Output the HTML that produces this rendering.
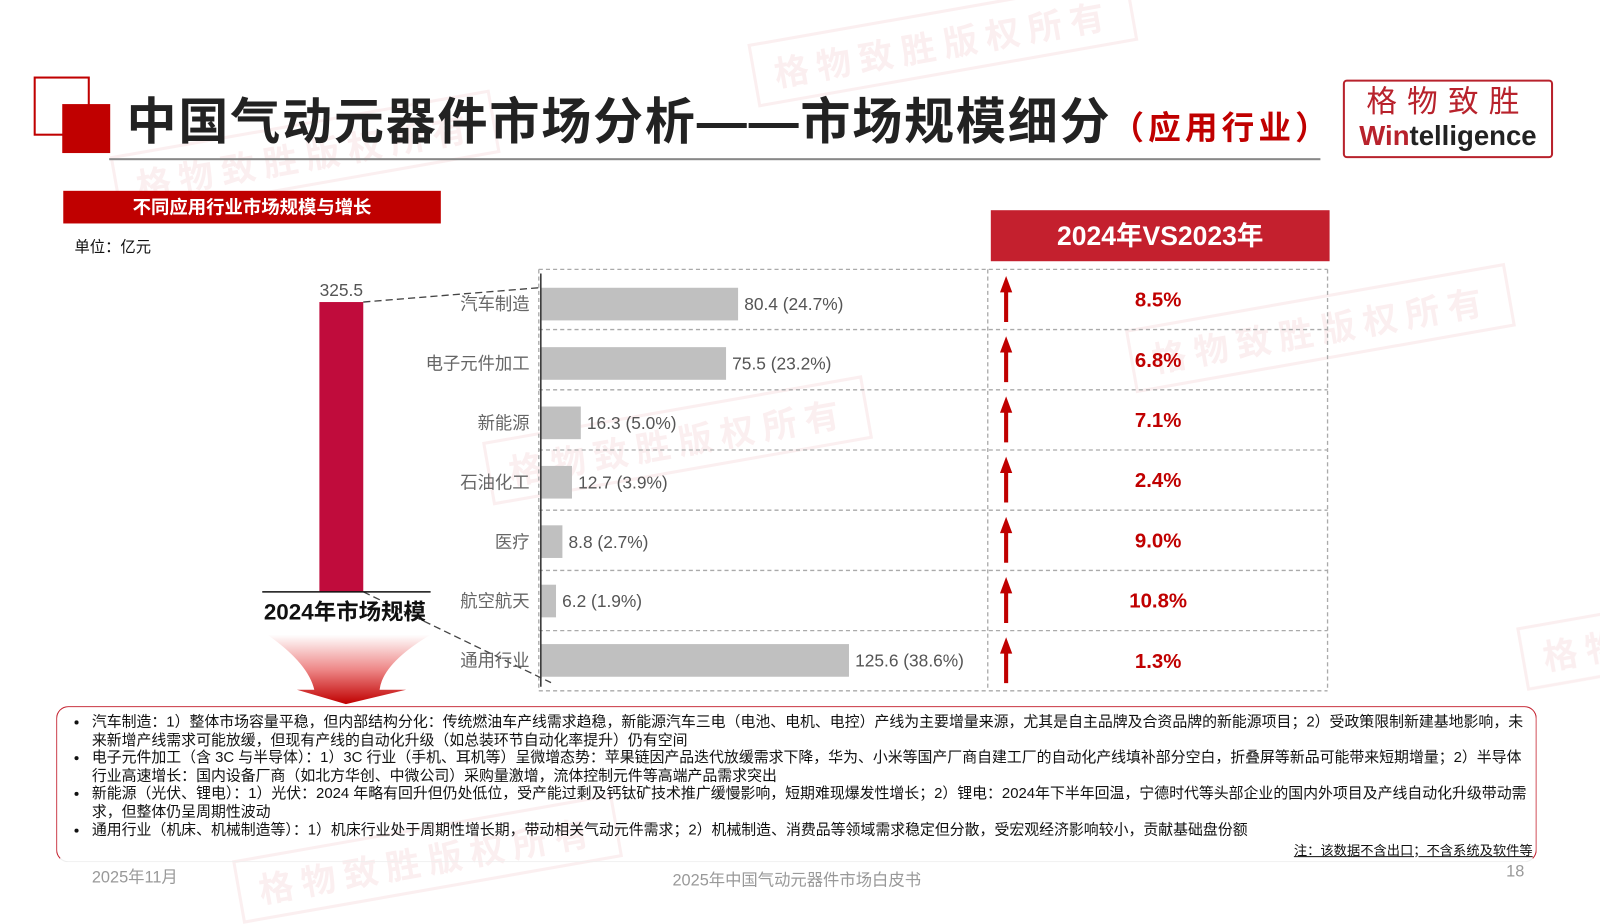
<!DOCTYPE html>
<html><head><meta charset="utf-8">
<style>
*{margin:0;padding:0;box-sizing:border-box}
body{width:1600px;height:900px;background:#fff;position:relative;overflow:hidden;font-family:"Liberation Sans","Noto Sans CJK SC",sans-serif}
#wrap{position:absolute;left:0;top:0;width:1568px;height:882px;transform:scale(1.020408);transform-origin:0 0}
.abs{position:absolute}
.wm{position:absolute;color:rgba(200,30,40,0.07);font-size:34px;font-weight:bold;letter-spacing:8px;border:3px solid rgba(200,30,40,0.07);padding:4px 18px;transform:rotate(-10deg);white-space:nowrap}
.note{font-size:14.6px;color:#111;line-height:17.6px}
.note li{margin-left:32px;padding-left:2px}
</style></head><body>
<div id="wrap">
<div class="wm" style="left:735px;top:10px">格物致胜版权所有</div>
<div class="wm" style="left:1105px;top:290px">格物致胜版权所有</div>
<div class="wm" style="left:475px;top:400px">格物致胜版权所有</div>
<div class="wm" style="left:230px;top:810px">格物致胜版权所有</div>
<div class="wm" style="left:110px;top:120px">格物致胜版权所有</div>
<div class="wm" style="left:1490px;top:600px">格物致</div>

<div class="abs" style="left:33px;top:75px;width:55px;height:58px;border:2px solid #c00000"></div>
<div class="abs" style="left:61px;top:102px;width:47px;height:48px;background:#c00000"></div>
<div class="abs" style="left:124px;top:80px;font-size:49px;font-weight:bold;color:#222;white-space:nowrap;letter-spacing:1.8px">中国气动元器件市场分析——市场规模细分<span style="font-size:32px;color:#c00000;letter-spacing:4px">（应用行业）</span></div>
<div class="abs" style="left:107px;top:155px;width:1187px;height:2px;background:#888"></div>
<div class="abs" style="left:1316px;top:78px;width:206px;height:77px;border:2px solid #b8222c;border-radius:4px">
 <div style="text-align:center;font-size:30px;color:#b8222c;letter-spacing:10px;line-height:34px;margin-top:4px">格物致胜</div>
 <div style="text-align:center;font-size:27px;line-height:30px;font-weight:bold"><span style="color:#b8222c">Win</span><span style="color:#222">telligence</span></div>
</div>

<div class="abs" style="left:62px;top:187px;width:370px;height:32px;background:#c00000;color:#fff;font-size:18px;font-weight:bold;text-align:center;line-height:32px">不同应用行业市场规模与增长</div>
<div class="abs" style="left:73px;top:231px;font-size:15px;color:#111">单位：亿元</div>

<div class="abs" style="left:971px;top:206px;width:332px;height:50px;background:#c4202e;color:#fff;font-size:26px;font-weight:bold;text-align:center;line-height:50px">2024年VS2023年</div>

<svg class="abs" style="left:0;top:0" width="1568" height="882" id="chart">
<defs>
<linearGradient id="ag" x1="0" y1="0" x2="0" y2="1"><stop offset="0" stop-color="#fff"/><stop offset="0.5" stop-color="#e88"/><stop offset="1" stop-color="#c00000"/></linearGradient>
</defs>
</svg>

<div class="abs" style="left:55px;top:692px;width:1451px;height:153px;border:1.5px solid #c4202e;border-radius:12px;border-bottom-color:#eee">
<ul class="note" style="margin-top:7px;padding-right:4px">
<li>汽车制造：1）整体市场容量平稳，但内部结构分化：传统燃油车产线需求趋稳，新能源汽车三电（电池、电机、电控）产线为主要增量来源，尤其是自主品牌及合资品牌的新能源项目；2）受政策限制新建基地影响，未来新增产线需求可能放缓，但现有产线的自动化升级（如总装环节自动化率提升）仍有空间</li>
<li>电子元件加工（含 3C 与半导体）：1）3C 行业（手机、耳机等）呈微增态势：苹果链因产品迭代放缓需求下降，华为、小米等国产厂商自建工厂的自动化产线填补部分空白，折叠屏等新品可能带来短期增量；2）半导体行业高速增长：国内设备厂商（如北方华创、中微公司）采购量激增，流体控制元件等高端产品需求突出</li>
<li>新能源（光伏、锂电）：1）光伏：2024 年略有回升但仍处低位，受产能过剩及钙钛矿技术推广缓慢影响，短期难现爆发性增长；2）锂电：2024年下半年回温，宁德时代等头部企业的国内外项目及产线自动化升级带动需求，但整体仍呈周期性波动</li>
<li>通用行业（机床、机械制造等）：1）机床行业处于周期性增长期，带动相关气动元件需求；2）机械制造、消费品等领域需求稳定但分散，受宏观经济影响较小，贡献基础盘份额</li>
</ul>
</div>
<div class="abs" style="left:1268px;top:823px;font-size:13px;color:#111;text-decoration:underline;white-space:nowrap">注：该数据不含出口；不含系统及软件等</div>
<div class="abs" style="left:90px;top:846px;font-size:16px;color:#999">2025年11月</div>
<div class="abs" style="left:659px;top:849px;font-size:16px;color:#999">2025年中国气动元器件市场白皮书</div>
<div class="abs" style="left:1476px;top:846px;font-size:16px;color:#999">18</div>
</div>

<script>
const categories=["汽车制造","电子元件加工","新能源","石油化工","医疗","航空航天","通用行业"];
const values=[80.4,75.5,16.3,12.7,8.8,6.2,125.6];
const shares=["24.7%","23.2%","5.0%","3.9%","2.7%","1.9%","38.6%"];
const growth=["8.5%","6.8%","7.1%","2.4%","9.0%","10.8%","1.3%"];
const total=[325.5];
const totalLabel=["2024年市场规模"];

const NS="http://www.w3.org/2000/svg";
const svg=document.getElementById('chart');
function mk(t,a,txt){const e=document.createElementNS(NS,t);for(const k in a)e.setAttribute(k,a[k]);if(txt!==undefined)e.textContent=txt;svg.appendChild(e);return e;}
const x0=530,pxPer=302/125.6;
const xs=v=>x0+v*pxPer;
const top0=264,rowH=59;
const yc=i=>top0+rowH*i+rowH/2;
const yb=i=>298+58.2*i;
const bigTop=296,bigBot=580;
const ys=v=>bigBot-(v/total[0])*(bigBot-bigTop);

for(let i=0;i<=categories.length;i++){
 const l=mk('line',{x1:528,x2:1301,y1:top0+rowH*i,y2:top0+rowH*i,stroke:'#aaa','stroke-dasharray':'4,3','stroke-width':1.3});
 
}
[528,968,1301].forEach(x=>{const l=mk('line',{x1:x,x2:x,y1:top0,y2:top0+rowH*7,stroke:'#aaa','stroke-dasharray':'4,3','stroke-width':1.3});
 });
const c1=mk('line',{x1:356,y1:ys(total[0]),x2:528,y2:top0+18,stroke:'#444','stroke-dasharray':'7,4','stroke-width':1.3});

const c2=mk('line',{x1:356,y1:bigBot,x2:540,y2:top0+rowH*7-8,stroke:'#444','stroke-dasharray':'7,4','stroke-width':1.3});


categories.forEach((c,i)=>{
 const y=yc(i), by=yb(i);
 const b=mk('rect',{x:x0,y:by-16,width:xs(values[i])-x0,height:32,fill:'#c0c0c0'});
 
 const lb=mk('text',{x:xs(values[i])+6,y:by+6,'font-size':17,fill:'#555'},values[i]+' ('+shares[i]+')');
 
 const cl=mk('text',{x:519,y:by+6,'font-size':17,fill:'#666','text-anchor':'end'},c);
 
 const ar=mk('path',{d:`M986 ${y-23} L980 ${y-7} L984 ${y-7} L984 ${y+22} L988 ${y+22} L988 ${y-7} L992 ${y-7} Z`,fill:'#c00000'});
 
 const g=mk('text',{x:1135,y:y+7,'font-size':20,'font-weight':'bold',fill:'#c00000','text-anchor':'middle'},growth[i]);
 
});
const ax=mk('line',{x1:x0,x2:x0,y1:top0+4,y2:top0+rowH*7-4,stroke:'#333','stroke-width':1.5});


const big=mk('rect',{x:313,y:ys(total[0]),width:43,height:bigBot-ys(total[0]),fill:'#c00c3c'});

const bl=mk('text',{x:334.5,y:ys(total[0])-6,'font-size':17,fill:'#555','text-anchor':'middle'},total[0]);

const base=mk('line',{x1:257,x2:422,y1:bigBot,y2:bigBot,stroke:'#111','stroke-width':1.5});

const tl=mk('text',{x:338,y:607,'font-size':22,'font-weight':'bold',fill:'#111','text-anchor':'middle'},totalLabel[0]);

const fa=mk('path',{d:'M262 622 L422 622 Q375 650 372 676 L398 676 L339 690 L291 676 L308 676 Q302 650 262 622 Z',fill:'url(#ag)'});

</script>
</body></html>
